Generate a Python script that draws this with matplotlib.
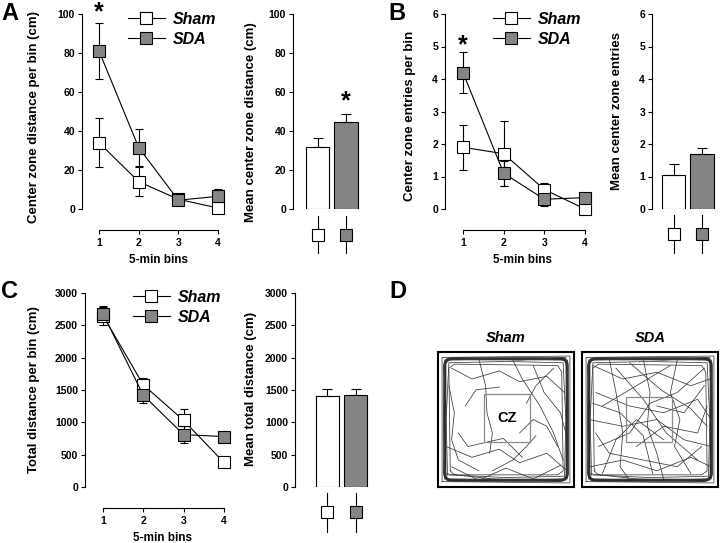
import numpy as np
import matplotlib
matplotlib.use('Agg')
import matplotlib.pyplot as plt
from matplotlib.lines import Line2D
from matplotlib.patches import Rectangle, FancyBboxPatch

plt.rcParams['font.family'] = ['Liberation Sans', 'DejaVu Sans']
plt.rcParams['font.weight'] = 'bold'

W, H = 720, 543
GRAY = '#858585'

bins = [1, 2, 3, 4]
groups = ['Sham', 'SDA']

# A: center zone distance
a_sham = [34, 14, 5, 0.5]
a_sham_err = [12.5, 7.5, 2, 1]
a_sda = [81, 31.5, 4.5, 6.5]
a_sda_err = [14.5, 9.5, 2.5, 4]
a_bar = [32, 44.5]
a_bar_err = [4.5, 4]

# B: center zone entries
b_sham = [1.9, 1.7, 0.6, 0.0]
b_sham_err = [0.7, 1.0, 0.2, 0.05]
b_sda = [4.2, 1.1, 0.3, 0.35]
b_sda_err = [0.63, 0.38, 0.2, 0.05]
b_bar = [1.05, 1.68]
b_bar_err = [0.33, 0.2]

# C: total distance
c_sham = [2650, 1580, 1030, 380]
c_sham_err = [150, 100, 170, 30]
c_sda = [2680, 1420, 810, 780]
c_sda_err = [110, 120, 130, 30]
c_bar = [1410, 1420]
c_bar_err = [100, 90]

# D: example tracks (arena units 0-100, y up)
sham_loops = [
    [(5, 6), (4, 50), (5, 94), (50, 95), (95, 94), (96, 50), (95, 6), (50, 5), (5, 6)],
    [(7, 9), (6, 50), (8, 92), (50, 93), (92, 92), (94, 50), (93, 8), (50, 7), (7, 9)],
    [(3, 4), (3, 96), (97, 97), (97, 3), (3, 4)],
    [(9, 12), (8, 88), (12, 91), (88, 90), (91, 85), (92, 12), (88, 9), (12, 9), (9, 12)],
    [(4, 10), (6, 60), (4, 90), (10, 96), (60, 94), (94, 96), (95, 60), (96, 10), (90, 4), (40, 6), (4, 10)],
]
sham_tracks = [
    [(10, 88), (25, 80), (45, 86), (60, 78), (80, 82), (93, 70)],
    [(8, 75), (12, 55), (10, 35), (15, 20), (30, 12)],
    [(30, 95), (35, 75), (36, 55), (40, 40), (38, 25)],
    [(55, 94), (62, 80), (75, 60), (85, 40), (92, 20)],
    [(6, 30), (25, 22), (45, 28), (60, 18), (80, 25), (95, 12)],
    [(10, 15), (30, 5), (50, 14), (70, 6), (90, 16)],
    [(70, 90), (78, 70), (90, 55), (94, 40)],
    [(20, 60), (28, 72), (45, 74)],
    [(60, 40), (70, 50), (80, 45), (88, 30)],
    [(40, 12), (55, 20), (65, 30), (72, 38)],
    [(85, 88), (72, 75), (65, 62)],
    [(15, 40), (22, 30), (48, 36), (62, 22)],
]
sda_loops = [
    [(5, 6), (4, 50), (5, 94), (50, 95), (95, 94), (96, 50), (95, 6), (50, 5), (5, 6)],
    [(7, 9), (6, 50), (8, 92), (50, 93), (92, 92), (94, 50), (93, 8), (50, 7), (7, 9)],
    [(3, 4), (3, 96), (97, 97), (97, 3), (3, 4)],
    [(9, 12), (8, 88), (12, 91), (88, 90), (91, 85), (92, 12), (88, 9), (12, 9), (9, 12)],
    [(4, 10), (6, 60), (4, 90), (10, 96), (60, 94), (94, 96), (95, 60), (96, 10), (90, 4), (40, 6), (4, 10)],
]
sda_tracks = [
    [(8, 90), (30, 80), (55, 85), (80, 75), (94, 80)],
    [(10, 70), (35, 60), (60, 55), (85, 65), (95, 50)],
    [(5, 50), (30, 45), (55, 50), (75, 35), (95, 30)],
    [(12, 30), (35, 40), (50, 62), (70, 70), (90, 88)],
    [(20, 95), (25, 70), (30, 40), (28, 15), (35, 5)],
    [(45, 95), (50, 70), (48, 45), (55, 25), (60, 6)],
    [(70, 94), (65, 70), (72, 50), (68, 30), (80, 10)],
    [(6, 15), (30, 20), (55, 12), (80, 22), (95, 15)],
    [(15, 60), (40, 75), (65, 90)],
    [(40, 30), (60, 45), (85, 40), (92, 60)],
    [(10, 40), (20, 25), (45, 20), (70, 15), (88, 30)],
    [(25, 88), (45, 65), (62, 40), (85, 20)],
    [(55, 60), (75, 55), (90, 75)],
    [(15, 10), (25, 35), (40, 50), (60, 35)],
    [(35, 92), (58, 72), (80, 58), (92, 45)],
    [(8, 62), (28, 55), (45, 38), (52, 10)],
]

fig = plt.figure(figsize=(W / 100, H / 100), dpi=100)


def px_axes(left, top, right, bottom):
    return fig.add_axes([left / W, 1 - bottom / H, (right - left) / W, (bottom - top) / H])


def style_axis(ax, ymax, ystep):
    for s in ['top', 'right']:
        ax.spines[s].set_visible(False)
    ax.spines['left'].set_bounds(0, ymax)
    ax.spines['left'].set_linewidth(0.8)
    ax.set_ylim(0, ymax)
    ax.set_yticks(np.arange(0, ymax + ystep / 2, ystep))
    ax.tick_params(axis='y', length=3, width=0.8, labelsize=7.5, pad=2)


def line_panel(box, sham, sham_err, sda, sda_err, ymax, ystep, ylabel, ylab_xy, star=None):
    ax = px_axes(*box)
    style_axis(ax, ymax, ystep)
    ax.spines['bottom'].set_position(('outward', 15))
    ax.spines['bottom'].set_bounds(1, 4)
    ax.spines['bottom'].set_linewidth(0.8)
    ax.set_xticks(bins)
    ax.tick_params(axis='x', length=3, width=0.8, labelsize=7.5, pad=3)
    for vals, errs, fc in [(sham, sham_err, 'white'), (sda, sda_err, GRAY)]:
        ax.errorbar(bins, vals, yerr=errs, fmt='none', ecolor='black', elinewidth=0.8,
                    capsize=3, capthick=0.8, clip_on=False, zorder=2)
        ax.plot(bins, vals, color='black', lw=0.8, marker='s', markersize=8.5,
                markerfacecolor=fc, markeredgecolor='black', markeredgewidth=0.8,
                clip_on=False, zorder=3)
    ax.set_xlabel('5-min bins', fontsize=8.5, fontweight='bold', labelpad=4)
    ax.set_ylabel(ylabel, fontsize=9.5, fontweight='bold')
    ax.yaxis.set_label_coords(*ylab_xy)
    if star is not None:
        ax.text(1, star, '*', ha='center', va='center', fontsize=18, fontweight='bold')
    return ax


def bar_panel(box, vals, errs, ymax, ystep, xlim, ylabel, ylab_xy, keys, star=None):
    ax = px_axes(*box)
    style_axis(ax, ymax, ystep)
    ax.spines['bottom'].set_visible(False)
    ax.set_xticks([])
    ax.set_xlim(*xlim)
    pos = [1, 2]
    ax.bar(pos, vals, width=0.81, color=['white', GRAY], edgecolor='black', linewidth=0.8,
           yerr=[[0, 0], errs], error_kw=dict(elinewidth=0.8, capsize=3.5, capthick=0.8))
    tr = ax.get_xaxis_transform()
    for p, fc in zip(pos, ['white', GRAY]):
        ax.plot([p, p], [keys[0], keys[2]], color='black', lw=0.8, transform=tr, clip_on=False)
        ax.plot([p], [keys[1]], marker='s', markersize=8.5, markerfacecolor=fc,
                markeredgecolor='black', markeredgewidth=0.8, transform=tr, clip_on=False)
    ax.set_ylabel(ylabel, fontsize=9.5, fontweight='bold')
    ax.yaxis.set_label_coords(*ylab_xy)
    if star is not None:
        ax.text(2, star, '*', ha='center', va='center', fontsize=18, fontweight='bold')
    return ax


def add_legend(ax, x, y):
    handles = [Line2D([], [], color='black', lw=0.8, marker='s', markersize=8.5,
                      markerfacecolor=fc, markeredgecolor='black', markeredgewidth=0.8)
               for fc in ['white', GRAY]]
    leg = ax.legend(handles, groups, loc='upper left', bbox_to_anchor=(x / W, 1 - y / H),
                    bbox_transform=fig.transFigure, frameon=False, borderpad=0,
                    borderaxespad=0, handlelength=2.3, handletextpad=0.5, labelspacing=0.3,
                    prop=dict(size=11.5, weight='bold', style='italic'))
    return leg


# Panel A
axA = line_panel((82, 14, 235, 209), a_sham, a_sham_err, a_sda, a_sda_err, 100, 20,
                 'Center zone distance per bin (cm)', (-42 / 153, 0.47), star=101)
axA.set_xlim(0.57, 4.43)
add_legend(axA, 128, 12)
axAb = bar_panel((293, 14, 362, 209), a_bar, a_bar_err, 100, 20, (0.14, 2.56),
                 'Mean center zone distance (cm)', (-36 / 69, 0.446), (-0.036, -0.133, -0.226),
                 star=55)

# Panel B
axB = line_panel((445, 14, 600, 209), b_sham, b_sham_err, b_sda, b_sda_err, 6, 1,
                 'Center zone entries per bin', (-29 / 155, 0.48), star=5.05)
axB.set_xlim(0.557, 4.37)
add_legend(axB, 493, 12)
axBb = bar_panel((652, 14, 720, 209), b_bar, b_bar_err, 6, 1, (0.245, 2.63),
                 'Mean center zone entries', (-29 / 68, 0.5), (-0.031, -0.128, -0.226))

# Panel C
axC = line_panel((85, 293, 240, 487), c_sham, c_sham_err, c_sda, c_sda_err, 3000, 500,
                 'Total distance per bin (cm)', (-45 / 155, 0.5))
axC.set_xlim(0.554, 4.4)
add_legend(axC, 133, 290)
axCb = bar_panel((295, 293, 375, 487), c_bar, c_bar_err, 3000, 500, (-0.14, 2.67),
                 'Mean total distance (cm)', (-38 / 80, 0.505), (-0.031, -0.129, -0.232))

# Panel D
for box, title, loops, tracks, cz in [((438, 352, 574, 487), 'Sham', sham_loops, sham_tracks, (34, 33, 34, 36)),
                                      ((582, 352, 718, 487), 'SDA', sda_loops, sda_tracks, (32, 33, 34, 34))]:
    ax = px_axes(*box)
    ax.set_xlim(0, 100)
    ax.set_ylim(0, 100)
    ax.set_xticks([])
    ax.set_yticks([])
    for s in ax.spines.values():
        s.set_linewidth(1.5)
    ax.add_patch(FancyBboxPatch((5, 5), 90, 90, boxstyle='round,pad=0,rounding_size=5',
                                fill=False, edgecolor='#2a2a2a', lw=2.2, zorder=1))
    for path in loops + tracks:
        xs, ys = zip(*path)
        ax.plot(xs, ys, color='#3a3a3a', lw=0.55, zorder=2)
    ax.add_patch(Rectangle(cz[:2], cz[2], cz[3], fill=False, edgecolor='#8a8a8a', lw=0.9, zorder=3))
    if title == 'Sham':
        ax.text(cz[0] + cz[2] / 2, cz[1] + cz[3] / 2, 'CZ', ha='center', va='center',
                fontsize=10.5, fontweight='bold', zorder=4)
    ax.set_title(title, fontsize=10.5, fontweight='bold', style='italic', pad=7)

# panel letters
for lbl, x, y in [('A', 10, 14), ('B', 397, 14), ('C', 10, 291), ('D', 398, 292)]:
    fig.text(x / W, 1 - y / H, lbl, fontsize=17, fontweight='bold', ha='center', va='center')

fig.savefig('out.png', dpi=100)
